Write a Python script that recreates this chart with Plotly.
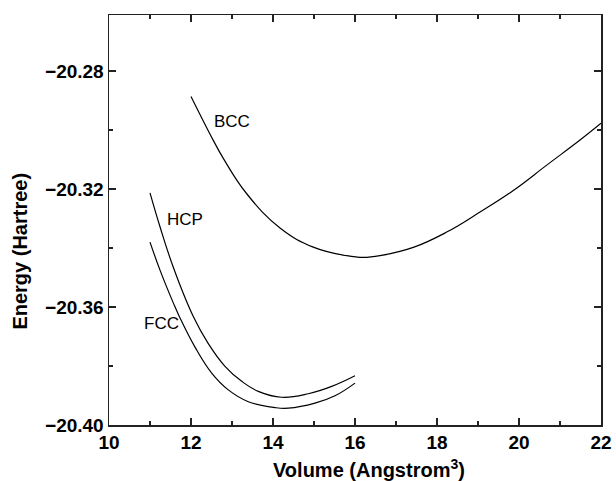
import plotly.graph_objects as go

# Data
bcc_volume = [12.0, 12.544, 12.788, 13.359, 14.171, 14.983, 15.798, 16.202, 16.610, 17.422,
              18.237, 19.049, 19.861, 20.676, 21.488, 22.0]
bcc_energy = [-20.2886, -20.3035, -20.3096, -20.3216, -20.3332, -20.3397, -20.3426, -20.3432,
              -20.3426, -20.3398, -20.3346, -20.3278, -20.3205, -20.3119, -20.3034, -20.2977]

hcp_volume = [11.0, 11.244, 11.568, 12.056, 12.422, 12.829, 13.237, 13.641, 14.212, 14.861, 15.432, 16.0]
hcp_energy = [-20.3213, -20.3328, -20.3465, -20.3632, -20.3724, -20.3801, -20.3852, -20.3886,
              -20.3906, -20.3894, -20.3869, -20.3833]

fcc_volume = [11.0, 11.244, 11.568, 11.732, 12.098, 12.505, 12.910, 13.398, 14.049, 14.373,
              15.024, 15.512, 16.0]
fcc_energy = [-20.3380, -20.3475, -20.3586, -20.3637, -20.3736, -20.3824, -20.3881, -20.3921,
              -20.3941, -20.3943, -20.3926, -20.3901, -20.3858]

labels = ["BCC", "HCP", "FCC"]
label_x = [13.01, 11.85, 11.285]
label_y = [-20.2971, -20.3304, -20.3655]

x_ticks = [10, 12, 14, 16, 18, 20, 22]
y_ticks = [-20.40, -20.36, -20.32, -20.28]

FONT = "Liberation Sans, Arial, Helvetica, sans-serif"

fig = go.Figure()
for xs, ys in [(bcc_volume, bcc_energy), (hcp_volume, hcp_energy), (fcc_volume, fcc_energy)]:
    fig.add_trace(go.Scatter(x=xs, y=ys, mode="lines",
                             line=dict(color="black", width=1.2, shape="spline", smoothing=1.2),
                             showlegend=False, hoverinfo="skip"))

for t, lx, ly in zip(labels, label_x, label_y):
    fig.add_annotation(x=lx, y=ly, text=t, showarrow=False, xanchor="center", yanchor="middle",
                       font=dict(family=FONT, size=17, color="black"))

# axis titles as annotations for exact placement
fig.add_annotation(xref="paper", yref="paper", x=0.528, y=-0.107, text="Volume (Angstrom<sup>3</sup>)",
                   showarrow=False, xanchor="center", yanchor="middle",
                   font=dict(family=FONT, size=20, color="black", weight="bold"))
fig.add_annotation(xref="paper", yref="paper", x=-0.18, y=0.424, text="Energy (Hartree)",
                   showarrow=False, xanchor="center", yanchor="middle", textangle=-90,
                   font=dict(family=FONT, size=20, color="black", weight="bold"))

axis_common = dict(
    showgrid=False, zeroline=False, showline=True, linecolor="#222", linewidth=1.5,
    mirror="allticks", ticks="inside", ticklen=7, tickwidth=1.2, tickcolor="#222",
    tickfont=dict(family=FONT, size=19, color="black", weight="bold"), automargin=False,
)

fig.update_xaxes(range=[10, 22], tickmode="array", tickvals=x_ticks,
                 ticktext=[str(v) for v in x_ticks],
                 minor=dict(ticks="inside", dtick=1, tick0=10, ticklen=4, tickwidth=1.2, tickcolor="#222", showgrid=False),
                 **axis_common)
fig.update_yaxes(range=[-20.40, -20.261], tickmode="array", tickvals=y_ticks,
                 ticktext=["\u2212%.2f" % abs(v) for v in y_ticks],
                 minor=dict(ticks="inside", dtick=0.02, tick0=-20.40, ticklen=4, tickwidth=1.2, tickcolor="#222", showgrid=False),
                 **axis_common)

fig.update_layout(width=616, height=481, margin=dict(l=109, r=15, t=15, b=56),
                  plot_bgcolor="white", paper_bgcolor="white")

fig.write_html("out.html", config={"displayModeBar": False, "staticPlot": True},
               post_script="document.body.style.margin='0';")
